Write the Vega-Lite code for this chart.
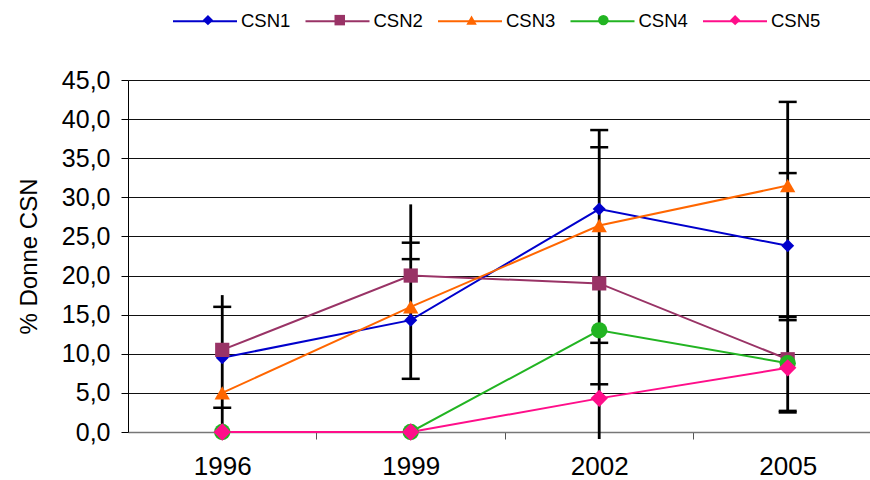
{
  "$schema": "https://vega.github.io/schema/vega-lite/v6.json",
  "width": 742,
  "height": 352,
  "autosize": {"type": "none"},
  "padding": {"left": 128, "top": 80, "right": 0, "bottom": 48},
  "background": "white",
  "config": {
    "font": "Liberation Sans",
    "view": {"stroke": null},
    "axis": {"labelColor": "#000", "titleColor": "#000", "labelFont": "Liberation Sans", "titleFont": "Liberation Sans"},
    "legend": {"padding": 0}
  },
  "datasets": {
    "series": [
      {"series": "CSN1", "year": 1996, "value": 9.5},
      {"series": "CSN1", "year": 1999, "value": 14.3},
      {"series": "CSN1", "year": 2002, "value": 28.5},
      {"series": "CSN1", "year": 2005, "value": 23.8},
      {"series": "CSN2", "year": 1996, "value": 10.5},
      {"series": "CSN2", "year": 1999, "value": 20.0},
      {"series": "CSN2", "year": 2002, "value": 19.0},
      {"series": "CSN2", "year": 2005, "value": 9.3},
      {"series": "CSN3", "year": 1996, "value": 5.0},
      {"series": "CSN3", "year": 1999, "value": 16.0},
      {"series": "CSN3", "year": 2002, "value": 26.4},
      {"series": "CSN3", "year": 2005, "value": 31.5},
      {"series": "CSN4", "year": 1996, "value": 0.0},
      {"series": "CSN4", "year": 1999, "value": 0.0},
      {"series": "CSN4", "year": 2002, "value": 13.0},
      {"series": "CSN4", "year": 2005, "value": 8.8},
      {"series": "CSN5", "year": 1996, "value": 0.0},
      {"series": "CSN5", "year": 1999, "value": 0.0},
      {"series": "CSN5", "year": 2002, "value": 4.3},
      {"series": "CSN5", "year": 2005, "value": 8.2}
    ],
    "bars": [
      {"year": 1996, "lo": 0.0, "hi": 17.5},
      {"year": 1999, "lo": 6.8, "hi": 29.1},
      {"year": 2002, "lo": -0.9, "hi": 38.6},
      {"year": 2005, "lo": 2.7, "hi": 42.2}
    ],
    "caps": [
      {"year": 1996, "v": 16.0},
      {"year": 1996, "v": 3.1},
      {"year": 1999, "v": 24.2},
      {"year": 1999, "v": 22.1},
      {"year": 1999, "v": 6.8},
      {"year": 2002, "v": 38.6},
      {"year": 2002, "v": 36.4},
      {"year": 2002, "v": 11.4},
      {"year": 2002, "v": 6.1},
      {"year": 2005, "v": 42.2},
      {"year": 2005, "v": 33.1},
      {"year": 2005, "v": 14.7},
      {"year": 2005, "v": 14.3},
      {"year": 2005, "v": 2.7},
      {"year": 2005, "v": 2.5}
    ]
  },
  "encoding": {
    "x": {
      "field": "year", "type": "quantitative",
      "scale": {"domain": [1994.5, 2006.31], "nice": false, "zero": false},
      "axis": {
        "title": null,
        "values": [1996, 1997.5, 1999, 2000.5, 2002, 2003.5, 2005],
        "labelExpr": "datum.value % 1 === 0 ? '' + datum.value : ''",
        "labelFontSize": 26,
        "labelPadding": 14,
        "labelOverlap": false,
        "tickSize": 7,
        "tickColor": "#555",
        "tickOpacity": {"condition": {"test": "datum.value % 1 === 0", "value": 0}, "value": 1},
        "domainColor": "#777",
        "domainWidth": 1.5,
        "grid": false
      }
    }
  },
  "layer": [
    {
      "data": {"name": "bars"},
      "mark": {"type": "rule", "color": "#000", "strokeWidth": 2.8},
      "encoding": {
        "y": {
          "field": "lo", "type": "quantitative",
          "scale": {"domain": [0, 45], "nice": false},
          "axis": {
            "title": "% Donne CSN",
            "titleFontSize": 24,
            "titleFontWeight": "normal",
            "titlePadding": 20,
            "values": [0, 5, 10, 15, 20, 25, 30, 35, 40, 45],
            "tickCount": 10,
            "labelExpr": "replace(format(datum.value, '.1f'), '.', ',')",
            "labelFontSize": 25,
            "labelPadding": 11,
            "labelOverlap": false,
            "tickSize": 7,
            "tickColor": "#000",
            "domainColor": "#000",
            "grid": true,
            "gridColor": {"condition": {"test": "datum.value === 0", "value": "transparent"}, "value": "#111"},
            "gridWidth": 1
          }
        },
        "y2": {"field": "hi"}
      }
    },
    {
      "data": {"name": "caps"},
      "mark": {"type": "tick", "orient": "horizontal", "color": "#000", "size": 18, "thickness": 2.5, "opacity": 1},
      "encoding": {
        "y": {"field": "v", "type": "quantitative"}
      }
    },
    {
      "data": {"name": "series"},
      "mark": {"type": "line", "strokeWidth": 2},
      "encoding": {
        "y": {"field": "value", "type": "quantitative"},
        "stroke": {
          "field": "series", "type": "nominal",
          "scale": {"domain": ["CSN1", "CSN2", "CSN3", "CSN4", "CSN5"], "range": ["#0000cc", "#993366", "#ff6600", "#22b422", "#ff0e8a"]},
          "legend": {
            "title": null,
            "orient": "none",
            "legendX": 44,
            "legendY": -92,
            "direction": "horizontal",
            "columns": 5,
            "symbolType": "stroke",
            "symbolSize": 4096,
            "symbolStrokeWidth": 2,
            "labelFontSize": 18.5,
            "labelColor": "#000",
            "labelOffset": 3,
            "columnPadding": 10.5
          }
        }
      }
    },
    {
      "data": {"name": "series"},
      "mark": {"type": "point", "filled": true, "opacity": 1, "strokeWidth": 0},
      "encoding": {
        "y": {"field": "value", "type": "quantitative"},
        "fill": {
          "field": "series", "type": "nominal",
          "scale": {"range": ["#0000cc", "#993366", "#ff6600", "#22b422", "#ff0e8a"]}
        },
        "shape": {
          "field": "series", "type": "nominal",
          "scale": {"range": ["diamond", "square", "triangle-up", "circle", "diamond"]},
          "legend": {
            "title": null,
            "orient": "none",
            "legendX": 70.7,
            "legendY": -69.25,
            "direction": "horizontal",
            "columns": 5,
            "symbolSize": 110,
            "symbolStrokeWidth": 0,
            "labelFontSize": 18.5,
            "labelExpr": "''",
            "labelOffset": 56.5,
            "columnPadding": 56.8
          }
        },
        "size": {
          "field": "series", "type": "nominal",
          "scale": {"domain": ["CSN5", "CSN4", "CSN3", "CSN2", "CSN1"], "range": [300, 170, 260, 180, 300]},
          "legend": null
        }
      }
    }
  ]
}
